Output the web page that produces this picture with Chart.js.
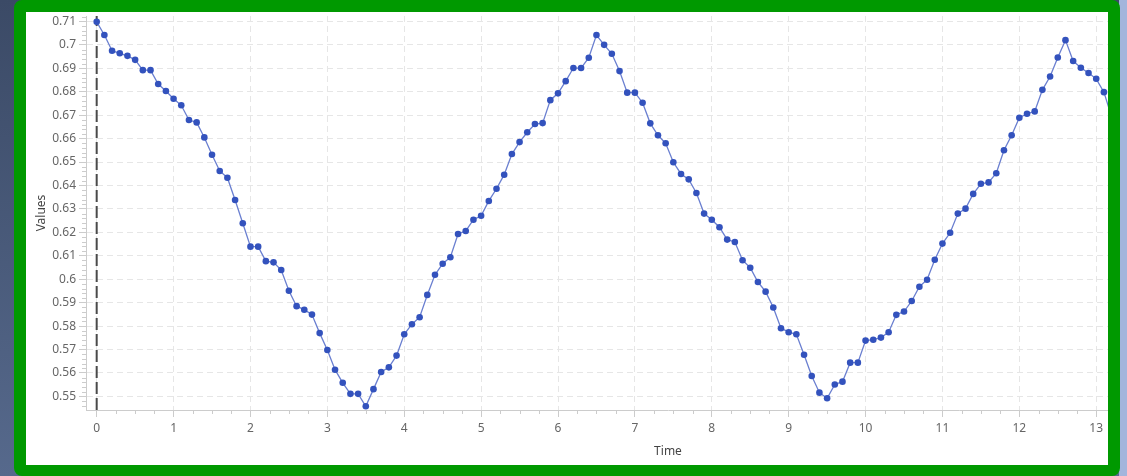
<!DOCTYPE html>
<html>
<head>
<meta charset="utf-8">
<script src="https://cdn.jsdelivr.net/npm/chart.js@4.4.1/dist/chart.umd.min.js"></script>
<style>
	html, body { margin: 0; padding: 0; }
	body {
		width: 1127px; height: 476px; overflow: hidden; position: relative;
		background: linear-gradient(180deg, #3b4a66 0%, #56698c 100%);
	}
	#rightStrip { position: absolute; left: 1119px; top: 0; width: 8px; height: 476px; background: #a3b5dc; }
	#card {
		position: absolute; left: 14px; top: 0; width: 1082px; height: 453px;
		border: solid #009900; border-width: 12px 12px 11px 12px; border-radius: 8px;
		background: #ffffff; overflow: hidden;
	}
	#values { display: block; }
</style>
</head>
<body>
<div id="rightStrip"></div>
<div id="card"><canvas id="values" width="1224" height="453"></canvas></div>
<script>

	/* Data */
	var times = [0, 0.1, 0.2, 0.3, 0.4, 0.5, 0.6, 0.7, 0.8, 0.9,
		1, 1.1, 1.2, 1.3, 1.4, 1.5, 1.6, 1.7, 1.8, 1.9,
		2, 2.1, 2.2, 2.3, 2.4, 2.5, 2.6, 2.7, 2.8, 2.9,
		3, 3.1, 3.2, 3.3, 3.4, 3.5, 3.6, 3.7, 3.8, 3.9,
		4, 4.1, 4.2, 4.3, 4.4, 4.5, 4.6, 4.7, 4.8, 4.9,
		5, 5.1, 5.2, 5.3, 5.4, 5.5, 5.6, 5.7, 5.8, 5.9,
		6, 6.1, 6.2, 6.3, 6.4, 6.5, 6.6, 6.7, 6.8, 6.9,
		7, 7.1, 7.2, 7.3, 7.4, 7.5, 7.6, 7.7, 7.8, 7.9,
		8, 8.1, 8.2, 8.3, 8.4, 8.5, 8.6, 8.7, 8.8, 8.9,
		9, 9.1, 9.2, 9.3, 9.4, 9.5, 9.6, 9.7, 9.8, 9.9,
		10, 10.1, 10.2, 10.3, 10.4, 10.5, 10.6, 10.7, 10.8, 10.9,
		11, 11.1, 11.2, 11.3, 11.4, 11.5, 11.6, 11.7, 11.8, 11.9,
		12, 12.1, 12.2, 12.3, 12.4, 12.5, 12.6, 12.7, 12.8, 12.9,
		13, 13.1, 13.2];

	var values = [0.7098, 0.7042, 0.6975, 0.6964, 0.6953, 0.6936, 0.6892, 0.6892, 0.6833, 0.6803,
		0.6770, 0.6742, 0.6679, 0.6669, 0.6605, 0.6531, 0.6462, 0.6433, 0.6338, 0.6239,
		0.6139, 0.6139, 0.6077, 0.6072, 0.6039, 0.5951, 0.5885, 0.5870, 0.5849, 0.5770,
		0.5698, 0.5614, 0.5558, 0.5511, 0.5511, 0.5458, 0.5531, 0.5604, 0.5624, 0.5674,
		0.5765, 0.5808, 0.5838, 0.5933, 0.6019, 0.6066, 0.6094, 0.6193, 0.6206, 0.6254,
		0.6271, 0.6334, 0.6386, 0.6446, 0.6534, 0.6585, 0.6627, 0.6662, 0.6666, 0.6764,
		0.6793, 0.6845, 0.6901, 0.6901, 0.6945, 0.7042, 0.7000, 0.6962, 0.6888, 0.6796,
		0.6796, 0.6753, 0.6665, 0.6614, 0.6580, 0.6499, 0.6449, 0.6426, 0.6368, 0.6280,
		0.6254, 0.6222, 0.6169, 0.6159, 0.6081, 0.6049, 0.5988, 0.5947, 0.5879, 0.5791,
		0.5774, 0.5765, 0.5678, 0.5587, 0.5516, 0.5492, 0.5551, 0.5563, 0.5644, 0.5644,
		0.5738, 0.5742, 0.5751, 0.5774, 0.5848, 0.5862, 0.5907, 0.5968, 0.5998, 0.6083,
		0.6152, 0.6198, 0.6280, 0.6301, 0.6364, 0.6407, 0.6413, 0.6452, 0.6550, 0.6614,
		0.6689, 0.6706, 0.6716, 0.6808, 0.6865, 0.6946, 0.7020, 0.6931, 0.6902, 0.6880,
		0.6855, 0.6798, 0.6693];

	// the plot runs on past the card's right edge (it is cut off there)
	var xRange = [-0.139, 15];
	var yRange = [0.5442, 0.7123];
	var markerTime = 0;


	/* Minor ticks on both axes (x every 0.25, y every 0.002) */
	var minorTicks = {
		id: 'minorTicks',
		afterDraw: function(chart) {
			var ctx = chart.ctx;
			var xs = chart.scales.x, ys = chart.scales.y;
			var area = chart.chartArea;
			ctx.save();
			ctx.strokeStyle = '#cccccc';
			ctx.lineWidth = 1;
			ctx.beginPath();
			for (var i = Math.ceil(xRange[0] * 4); i <= Math.floor(xRange[1] * 4); i++) {
				if (i % 4 === 0) continue;
				var px = Math.round(xs.getPixelForValue(i / 4)) + 0.5;
				ctx.moveTo(px, area.bottom);
				ctx.lineTo(px, area.bottom + 4);
			}
			for (var j = Math.ceil(yRange[0] * 500); j <= Math.floor(yRange[1] * 500); j++) {
				if (j % 5 === 0) continue;
				var py = Math.round(ys.getPixelForValue(j / 500)) + 0.5;
				ctx.moveTo(area.left - 4, py);
				ctx.lineTo(area.left, py);
			}
			ctx.stroke();
			ctx.restore();
		}
	};

	/* keep the plot box where the reference has it */
	function fixX(scale) {
		scale.height = 55;
		scale.paddingLeft = 0;
		scale.paddingRight = 0;
		scale.paddingTop = 0;
		scale.paddingBottom = 0;
	}
	function fixY(scale) {
		scale.width = 60;
		scale.paddingTop = 0;
		scale.paddingBottom = 0;
		scale.paddingLeft = 0;
		scale.paddingRight = 0;
	}

	var points = times.map(function(t, i) { return {x: t, y: values[i]}; });

	var tickFont = {family: '"Noto Sans", "DejaVu Sans", sans-serif', size: 12};

	var valuesChart = new Chart(document.getElementById('values'), {
		type: 'line',
		data: {
			datasets: [{
				label: 'Values',
				data: points,
				borderColor: '#6a7fd0',
				borderWidth: 1.3,
				pointRadius: 3.3,
				pointBorderWidth: 0,
				pointBackgroundColor: '#3352bd',
				pointHoverRadius: 3.3,
				tension: 0,
				order: 0
			}, {
				label: 'marker',
				data: [{x: markerTime, y: yRange[0]}, {x: markerTime, y: yRange[1]}],
				borderColor: '#4a4a4a',
				borderWidth: 2,
				borderDash: [12, 4],
				pointRadius: 0,
				order: 1
			}]
		},
		options: {
			responsive: false,
			animation: false,
			devicePixelRatio: 1,
			layout: {autoPadding: false, padding: {top: 4, right: 0, left: 0, bottom: 0}},
			plugins: {legend: {display: false}, tooltip: {enabled: false}},
			scales: {
				x: {
					type: 'linear',
					min: xRange[0],
					max: xRange[1],
					afterFit: fixX,
					ticks: {
						stepSize: 1,
						includeBounds: false,
						color: '#666666',
						font: tickFont,
						padding: 4,
						maxRotation: 0
					},
					grid: {color: '#e6e6e6', tickColor: '#cccccc', tickLength: 7, tickBorderDash: []},
					border: {color: '#cccccc', dash: [6, 4]},
					title: {display: true, text: 'Time', color: '#444444', font: tickFont, padding: {top: 0, bottom: 6}}
				},
				y: {
					type: 'linear',
					min: yRange[0],
					max: yRange[1],
					afterFit: fixY,
					ticks: {
						stepSize: 0.01,
						includeBounds: false,
						color: '#666666',
						font: tickFont,
						padding: 3,
						callback: function(v) { return String(Number(v.toFixed(2))); }
					},
					grid: {color: '#e6e6e6', tickColor: '#cccccc', tickLength: 7, tickBorderDash: []},
					border: {color: '#cccccc', dash: [6, 4]},
					title: {display: true, text: 'Values', color: '#444444', font: tickFont, padding: {top: 8, bottom: 0}}
				}
			}
		},
		plugins: [minorTicks]
	});

</script>
</body>
</html>
